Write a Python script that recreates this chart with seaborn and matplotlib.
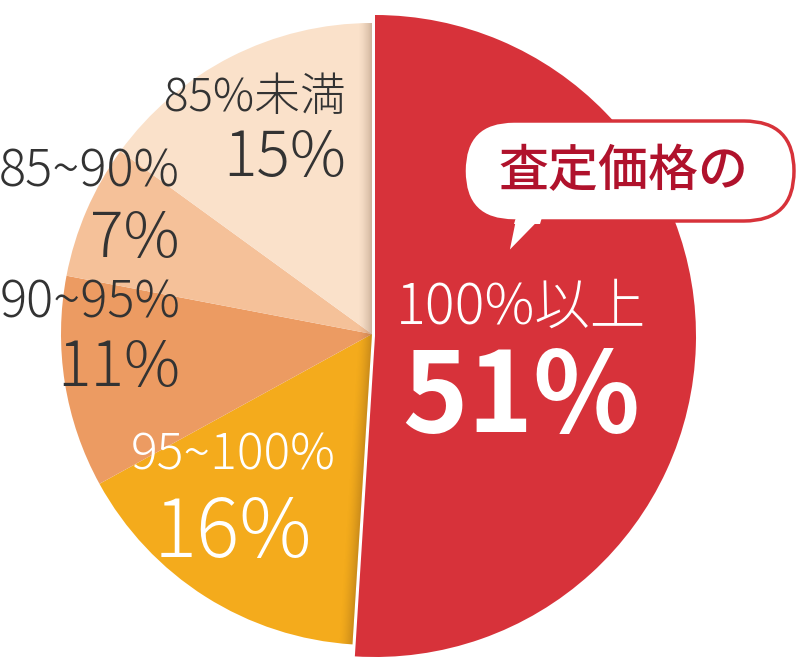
import matplotlib
matplotlib.use("Agg")
import numpy as np
import matplotlib.pyplot as plt
from matplotlib.patches import FancyBboxPatch, Polygon, Wedge
import seaborn as sns

# 査定価格の分布 (100%以上 が 51%)
labels = ['100%以上', '95~100%', '90~95%', '85~90%', '85%未満']
values = [51, 16, 11, 7, 15]
colors = ['#D7323A', '#F4AB1C', '#EC9B62', '#F5C199', '#FAE1CA']
text_colors = ['white', 'white', '#333333', '#333333', '#333333']
callout = '査定価格の'

sns.set_theme(style='white')
plt.rcParams['font.family'] = ['Noto Sans CJK JP', 'DejaVu Sans']

W, H = 800, 672
fig = plt.figure(figsize=(W / 100, H / 100), dpi=100)
ax = fig.add_axes([0, 0, 1, 1])

cx, cy, r = 372, H - 334, 311
wedges, _ = ax.pie(values, colors=colors, startangle=90, counterclock=False,
                   center=(cx, cy), radius=r, wedgeprops=dict(linewidth=0))

# the big slice stands out of the pie
big = wedges[0]
bx, by = 375, H - 336
big.set_center((bx, by))
big.set_radius(321)
big.set_zorder(3)

# soft shadow of the big slice falling on the other slices
end_ang = np.deg2rad(90 - 360 * values[0] / sum(values))
gx, gy = np.meshgrid(np.arange(0, W, 1.0), np.arange(0, H, 1.0))
d_up = np.where(gy >= by, np.abs(gx - bx), np.hypot(gx - bx, gy - by))
ux, uy = np.cos(end_ang), np.sin(end_ang)
t = np.clip((gx - bx) * ux + (gy - by) * uy, 0, None)
d_low = np.hypot(gx - bx - t * ux, gy - by - t * uy)
dist = np.minimum(d_up, d_low)
shade = np.zeros((H, W, 4))
shade[..., :3] = (0.30, 0.18, 0.08)
shade[..., 3] = 0.36 * np.clip(1 - dist / 18, 0, 1) ** 1.6
img = ax.imshow(shade, extent=(0, W, 0, H), origin='lower', zorder=2,
                interpolation='bilinear')
clip = Wedge((cx, cy), r, 90, np.rad2deg(end_ang) % 360, transform=ax.transData)
img.set_clip_path(clip)

# labels: (x, y cat, y pct, size cat, size pct, align, weight pct)
spots = [
    (521, 307, 400, 40, 80, 'center', 'bold'),
    (233, 456, 535, 36, 58, 'center', 'light'),
    (180, 303, 369, 36.5, 45, 'right', 'light'),
    (180, 172, 240, 36.5, 45, 'right', 'light'),
    (346, 98, 159, 33, 45, 'right', 'light'),
]
for lab, val, tc, (x, y1, y2, s1, s2, ha, wt) in zip(labels, values, text_colors, spots):
    ax.text(x, H - y1, lab, color=tc, fontsize=s1, ha=ha, va='center',
            fontweight='light', zorder=5)
    ax.text(x, H - y2, f'{val}%', color=tc, fontsize=s2, ha=ha, va='center',
            fontweight=wt, zorder=5)

# speech bubble
red = colors[0]
tail = Polygon([(515, H - 216), (545, H - 216), (507, H - 255)], closed=True,
               facecolor='white', edgecolor=red, linewidth=2.5, zorder=6)
ax.add_patch(tail)
bubble = FancyBboxPatch((464, H - 221), 330, 100,
                        boxstyle='round,pad=0,rounding_size=50',
                        facecolor='white', edgecolor=red, linewidth=2.5, zorder=7)
ax.add_patch(bubble)
ax.add_patch(Polygon([(517, H - 214), (543, H - 214), (540, H - 224), (514, H - 224)],
                     closed=True, facecolor='white', edgecolor='none', zorder=8))
ax.text(623, H - 172, callout, color='#B0122C', fontsize=36, ha='center',
        va='center', fontweight='medium', zorder=9)

ax.set_xlim(0, W)
ax.set_ylim(0, H)
ax.set_aspect('equal')
ax.axis('off')
fig.savefig('out.png', dpi=100, facecolor='white')
